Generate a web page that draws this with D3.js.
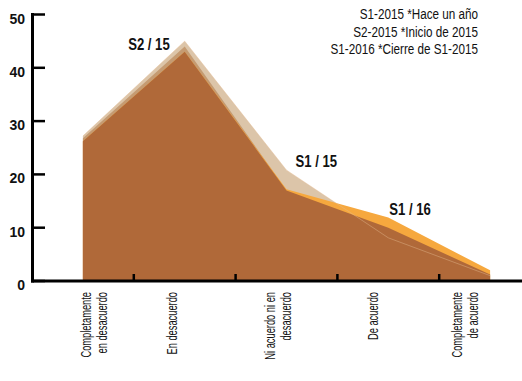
<!DOCTYPE html>
<html>
<head>
<meta charset="utf-8">
<script src="https://cdn.jsdelivr.net/npm/d3@7"></script>
<style>
  body { margin: 0; background: #fff; }
  svg { display: block; }
  text { font-family: "Liberation Sans", Arial, sans-serif; }
</style>
</head>
<body>
<svg id="chart"></svg>
<script>
// categories and their tick label lines
const categories = ["Completamente en desacuerdo", "En desacuerdo", "Ni acuerdo ni en desacuerdo", "De acuerdo", "Completamente de acuerdo"];
const labelLines = [["Completamente", "en desacuerdo"], ["En desacuerdo"], ["Ni acuerdo ni en", "desacuerdo"], ["De acuerdo"], ["Completamente", "de acuerdo"]];

// series values (%)
const s1_15 = [27.2, 45.0, 20.8, 8.1, 1.0];
const s2_15 = [26.8, 44.0, 17.0, 10.0, 1.2];
const s1_16 = [26.2, 43.0, 17.2, 11.9, 2.0];

const yTicks = [0, 10, 20, 30, 40, 50];
const legendLines = ["S1-2015 *Hace un año", "S2-2015 *Inicio de 2015", "S1-2016 *Cierre de S1-2015"];
const seriesNames = ["S1 / 15", "S2 / 15", "S1 / 16"];

var width = 522
var height = 381
// no narrow face installed, so squeeze the regular one
var narrow = 0.82
// hand nudges of the category labels from the band centre
var labelShift = [11, -13, -9, -16, -26]

var svg = d3.select("#chart")
  .attr("width", width)
  .attr("height", height)

var x = d3.scaleBand()
  .domain(categories)
  .range([32, 541])

var y = d3.scaleLinear()
  .domain([0, 50])
  .range([281, 14.5])

var cx = (i) => x(categories[i]) + x.bandwidth() / 2

var area = d3.area()
  .x((d, i) => cx(i))
  .y0(y(0))
  .y1(d => y(d))

var line = d3.line()
  .x((d, i) => cx(i))
  .y(d => y(d))

// overlap of S2/15 and S1/16 where both areas sit on top of each other
var overlap = s2_15.map((v, i) => Math.min(v, s1_16[i]))

svg.append("path").datum(s1_15).attr("d", area).attr("fill", "#dcc5a9")
svg.append("path").datum(s2_15).attr("d", area).attr("fill", "#c59b72")
svg.append("path").datum(s1_16).attr("d", area).attr("fill", "#f6a83e")
svg.append("path").datum(overlap).attr("d", area).attr("fill", "#b06939")

// S1/15 edge shows faintly through the other areas
svg.append("path").datum(s1_15).attr("d", line)
  .attr("fill", "none")
  .attr("stroke", "#e2b88e")
  .attr("stroke-opacity", 0.45)
  .attr("stroke-width", 1)

// series annotations
var annotations = [
  { name: seriesNames[1], i: 1, v: s1_15[1], dx: -15, dy: 9, anchor: "end" },
  { name: seriesNames[0], i: 2, v: s1_15[2], dx: 9, dy: -3, anchor: "start" },
  { name: seriesNames[2], i: 3, v: s1_16[3], dx: 1, dy: -3, anchor: "start" }
]
svg.selectAll(".annot")
  .data(annotations)
  .enter()
  .append("text")
  .attr("transform", d => "translate(" + (cx(d.i) + d.dx) + "," + (y(d.v) + d.dy) + ") scale(" + narrow + ",1)")
  .attr("text-anchor", d => d.anchor)
  .style("font-size", "16px")
  .style("font-weight", "bold")
  .attr("fill", "#111")
  .text(d => d.name)

// axes
svg.append("line")
  .attr("x1", 32.5).attr("x2", 32.5)
  .attr("y1", y(50) - 1.5).attr("y2", y(0) + 1.5)
  .attr("stroke", "#000").attr("stroke-width", 3)

svg.append("line")
  .attr("x1", 31).attr("x2", width)
  .attr("y1", y(0)).attr("y2", y(0))
  .attr("stroke", "#000").attr("stroke-width", 3)

svg.selectAll(".ytick")
  .data(yTicks)
  .enter()
  .append("line")
  .attr("x1", 33).attr("x2", 45)
  .attr("y1", d => y(d)).attr("y2", d => y(d))
  .attr("stroke", "#000").attr("stroke-width", 2.5)

svg.selectAll(".ylabel")
  .data(yTicks)
  .enter()
  .append("text")
  .attr("x", 25)
  .attr("y", d => y(d) + 9)
  .attr("text-anchor", "end")
  .style("font-size", "14px")
  .style("font-weight", "bold")
  .attr("fill", "#111")
  .text(d => d)

// x ticks sit on the band boundaries
svg.selectAll(".xtick")
  .data(categories.slice(1))
  .enter()
  .append("line")
  .attr("x1", d => x(d)).attr("x2", d => x(d))
  .attr("y1", y(0)).attr("y2", y(0) - 7)
  .attr("stroke", "#000").attr("stroke-width", 2.5)

// rotated category labels
var lab = svg.selectAll(".xlabel")
  .data(categories)
  .enter()
  .append("g")
  .attr("transform", (d, i) => "translate(" + (cx(i) + labelShift[i]) + ",292) rotate(-90) scale(0.6,1)")

lab.each(function(d, i) {
  var lines = labelLines[i]
  var n = lines.length
  d3.select(this).selectAll("text")
    .data(lines)
    .enter()
    .append("text")
    .attr("x", 0)
    .attr("y", (t, j) => 5.5 - 8 * (n - 1) + 16 * j)
    .attr("text-anchor", "end")
    .style("font-size", "15.5px")
    .attr("fill", "#111")
    .text(t => t)
})

// legend text, top right
svg.selectAll(".legend")
  .data(legendLines)
  .enter()
  .append("text")
  .attr("transform", (d, i) => "translate(478," + (19 + i * 17.5) + ") scale(0.78,1)")
  .attr("text-anchor", "end")
  .style("font-size", "15px")
  .attr("fill", "#111")
  .text(d => d)
</script>
</body>
</html>
